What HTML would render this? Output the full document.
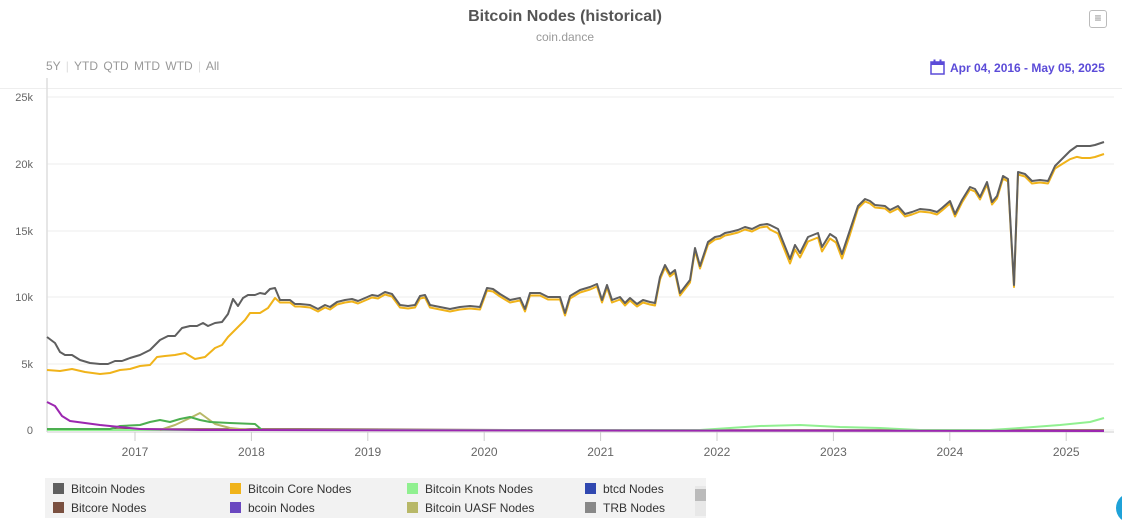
<!DOCTYPE html>
<html><head><meta charset="utf-8"><style>
body{margin:0;width:1122px;height:514px;background:#fff;overflow:hidden;font-family:"Liberation Sans",Arial,sans-serif;position:relative}
.t{position:absolute;left:0;width:1130px;text-align:center}
.lg{position:absolute;left:45px;top:478px;width:661px;height:40px;background:#f2f2f2}
.it{position:absolute;font-size:12px;color:#333}
.it i{display:inline-block;width:11px;height:11px;margin-right:7px;vertical-align:-1px}
</style></head><body>
<div class="t" style="top:8px;font-size:16px;font-weight:bold;color:#555">Bitcoin Nodes (historical)</div>
<div class="t" style="top:30px;font-size:12px;color:#999">coin.dance</div>
<div style="position:absolute;left:1089px;top:10px;width:16px;height:16px;border:1px solid #bbb;border-radius:3px;color:#888;font-size:12px;text-align:center;line-height:15px">≡</div>
<div style="position:absolute;left:46px;top:59px;font-size:12px;color:#999;word-spacing:2px">5Y <span style="color:#ddd">|</span> YTD QTD MTD WTD <span style="color:#ddd">|</span> All</div>
<div style="position:absolute;left:930px;top:59px;font-size:12px;font-weight:bold;color:#5b4bd8"><svg width="15" height="16" style="vertical-align:-3px;margin-right:5px"><rect x="1" y="3" width="13" height="12" fill="none" stroke="#5b4bd8" stroke-width="1.5"/><rect x="1" y="3" width="13" height="3" fill="#5b4bd8"/><rect x="3.5" y="0.5" width="2" height="4" fill="#5b4bd8"/><rect x="9.5" y="0.5" width="2" height="4" fill="#5b4bd8"/></svg>Apr 04, 2016 - May 05, 2025</div>
<div style="position:absolute;left:0;top:88px;width:1122px;height:1px;background:#eee"></div>
<svg id="c" width="1122" height="514" style="position:absolute;left:0;top:0" font-family="Liberation Sans,Arial,sans-serif"></svg>
<div class="lg">
<div class="it" style="left:8px;top:4px"><i style="background:#5f5f5f"></i>Bitcoin Nodes</div>
<div class="it" style="left:185px;top:4px"><i style="background:#f0b31a"></i>Bitcoin Core Nodes</div>
<div class="it" style="left:362px;top:4px"><i style="background:#90f090"></i>Bitcoin Knots Nodes</div>
<div class="it" style="left:540px;top:4px"><i style="background:#3048b0"></i>btcd Nodes</div>
<div class="it" style="left:8px;top:23px"><i style="background:#7a5040"></i>Bitcore Nodes</div>
<div class="it" style="left:185px;top:23px"><i style="background:#6a48c0"></i>bcoin Nodes</div>
<div class="it" style="left:362px;top:23px"><i style="background:#b8b868"></i>Bitcoin UASF Nodes</div>
<div class="it" style="left:540px;top:23px"><i style="background:#888"></i>TRB Nodes</div>
<div style="position:absolute;left:650px;top:8px;width:11px;height:30px;background:#e8e8e8"><div style="height:12px;margin-top:3px;background:#bbb"></div></div>
</div>
<div style="position:absolute;left:1116px;top:493px;width:30px;height:30px;border-radius:50%;background:#1fa2d8"></div>
<script>
const s=document.getElementById('c');let h='';
const yl=[[0,430],[5,364],[10,297],[15,231],[20,164],[25,97]];
yl.forEach(([v,y])=>{h+=`<line x1="47" x2="1114" y1="${y}" y2="${y}" stroke="#eee"/>`;h+=`<text x="33" y="${y+4}" text-anchor="end" font-size="11" fill="#666">${v?v+'k':'0'}</text>`});
h+='<line x1="47" x2="47" y1="78" y2="432" stroke="#ddd" stroke-width="1.5"/>';
h+='<line x1="47" x2="1114" y1="432" y2="432" stroke="#ccc"/>';
[2017,2018,2019,2020,2021,2022,2023,2024,2025].forEach((yr,i)=>{const x=135+i*116.4;h+=`<line x1="${x}" x2="${x}" y1="432" y2="441" stroke="#ccc"/><text x="${x}" y="456" text-anchor="middle" font-size="12" fill="#666">${yr}</text>`});
const g=[[47,337],[55,343],[60,352],[65,355],[72,355],[80,360],[90,363],[100,364],[108,364],[115,361],[122,361],[130,358],[140,355],[150,350],[160,340],[168,336],[175,336],[182,328],[190,326],[197,326],[203,323],[208,326],[215,323],[222,322],[228,314],[233,299],[238,306],[243,298],[248,295],[255,295],[260,293],[265,294],[270,289],[275,288],[280,300],[290,300],[295,304],[300,304],[310,305],[318,309],[325,305],[330,307],[337,302],[345,300],[352,299],[358,301],[365,298],[372,295],[378,296],[385,292],[392,294],[400,305],[408,306],[415,305],[420,296],[425,295],[430,305],[440,307],[450,309],[460,307],[470,306],[480,307],[487,288],[493,289],[500,294],[510,300],[520,298],[525,309],[530,293],[540,293],[548,297],[560,297],[565,313],[570,296],[580,290],[590,287],[597,284],[602,300],[607,285],[612,300],[620,297],[625,303],[630,298],[637,304],[643,300],[650,302],[655,303],[660,277],[665,265],[670,274],[675,270],[680,293],[690,280],[695,248],[700,266],[708,242],[715,237],[720,236],[725,233],[730,232],[738,230],[745,227],[752,229],[760,225],[767,224],[770,225],[778,229],[790,259],[795,245],[800,253],[808,237],[818,233],[822,247],[830,234],[836,238],[842,254],[850,230],[858,206],[865,199],[870,201],[875,205],[885,206],[890,210],[898,206],[905,214],[912,212],[920,209],[930,210],[937,212],[942,208],[950,201],[955,214],[962,200],[970,187],[975,189],[980,197],[987,182],[992,202],[997,196],[1003,176],[1008,179],[1014,285],[1018,172],[1025,174],[1032,181],[1040,180],[1048,181],[1055,166],[1062,159],[1070,151],[1077,146],[1082,146],[1090,146],[1095,145],[1104,142]];
const o0=[[47,370],[60,371],[72,369],[85,372],[100,374],[110,373],[120,370],[130,369],[140,366],[150,365],[157,357],[165,356],[175,355],[185,353],[195,359],[205,357],[215,348],[222,345],[228,337],[238,327],[245,320],[250,313],[260,313],[268,308],[275,298]];
function off(x){let d=2.5;if(x>=770&&x<=850)d=4.5;if(x>1055)d=2.5+Math.min(9.5,(x-1055)/25*9.5);return d;}
const o=o0.concat(g.filter(p=>p[0]>=280).map(([x,y])=>[x,x==1014?287:y+off(x)]));
const P=a=>a.map(p=>p.join(',')).join(' ');
const L=(a,c,w=2)=>h+=`<polyline points="${P(a)}" fill="none" stroke="${c}" stroke-width="${w}" stroke-linejoin="round"/>`;
L([[47,429],[300,429],[600,430],[1104,430]],'#7a5040',1.5);
L([[47,430],[600,430],[700,430],[760,426],[800,425],[840,427],[880,428],[920,430],[990,430],[1020,428],[1060,425],[1090,422],[1104,418]],'#90f090');
L([[160,430],[175,425],[190,418],[200,413],[215,424],[230,428],[250,430]],'#b8b868');
L([[47,429],[110,429],[120,426],[140,425],[150,422],[160,420],[170,422],[180,419],[190,417],[200,420],[210,422],[230,423],[255,424],[262,430]],'#4caf50');
L([[47,402],[55,406],[62,416],[70,421],[85,423],[100,425],[120,427],[140,429],[200,430],[1104,431]],'#9c27b0');
L(o,'#f0b31a');L(g,'#5f5f5f');
s.innerHTML=h;
</script>
</body></html>
